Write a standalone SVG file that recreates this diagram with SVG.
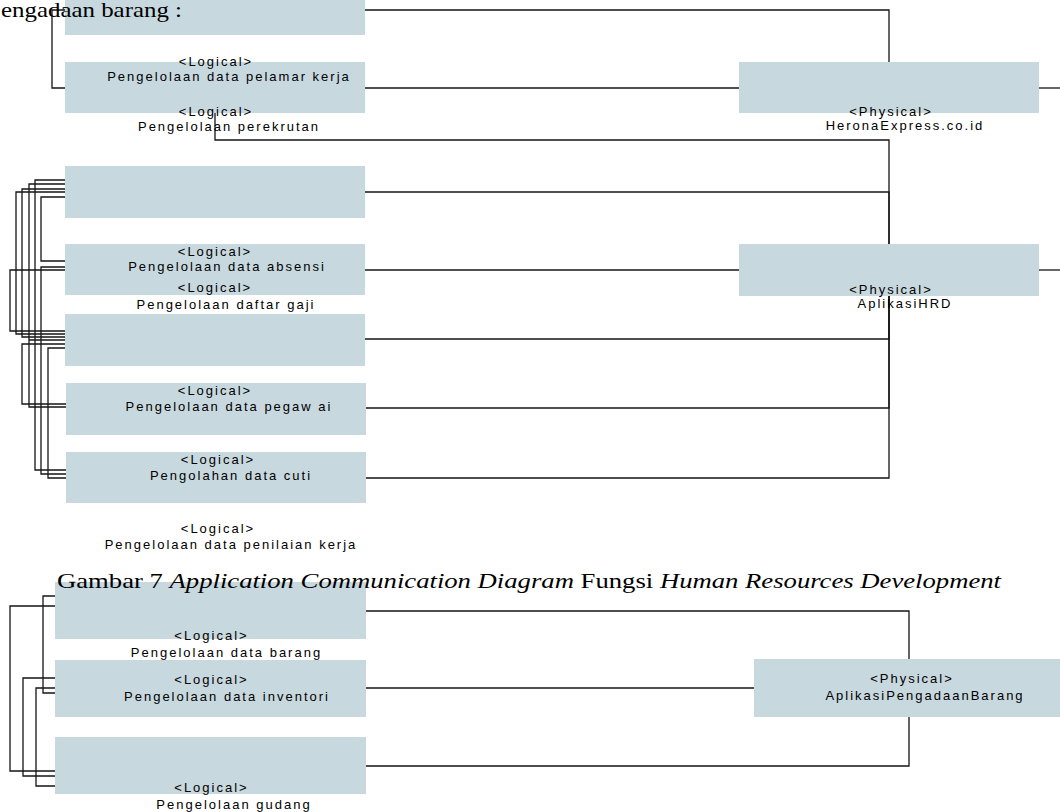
<svg xmlns="http://www.w3.org/2000/svg" width="1060" height="812" viewBox="0 0 1060 812">
<style>
.box{fill:#c8d8df;stroke:none}
.c{fill:none;stroke:#151515;stroke-width:1.3}
.t{font-family:"Liberation Sans",Arial,sans-serif;font-size:13px;letter-spacing:2px;fill:#000;text-anchor:middle}
.cap{font-family:"Liberation Serif","Times New Roman",serif;font-size:21.5px;fill:#000}
</style>
<rect width="1060" height="812" fill="#fff"/>
<g id="connectors">
<path class="c" d="M65,10 H52 V88 H65"/>
<path class="c" d="M365,10 H889 V62"/>
<path class="c" d="M365,88 H739"/>
<path class="c" d="M1039,88 H1060"/>
<path class="c" d="M215,113 V140 H889 V244"/>
<path class="c" d="M365,192 H889 V244"/>
<path class="c" d="M365,270 H739"/>
<path class="c" d="M1039,270 H1060"/>
<path class="c" d="M365,339 H889 V296"/>
<path class="c" d="M366,408 H889 V296"/>
<path class="c" d="M366,478 H889 V296"/>
<path class="c" d="M65,180 H35 V470 H66"/>
<path class="c" d="M65,184 H29 V407 H66"/>
<path class="c" d="M65,189 H22 V337 H65"/>
<path class="c" d="M65,192 H16 V334 H65"/>
<path class="c" d="M65,197 H41 V261 H65"/>
<path class="c" d="M65,267 H41 V474 H66"/>
<path class="c" d="M65,270 H10 V331 H65"/>
<path class="c" d="M65,340 H29"/>
<path class="c" d="M65,344 H22 V404 H66"/>
<path class="c" d="M65,348 H48 V478 H66"/>
<path class="c" d="M366,611 H909 V659"/>
<path class="c" d="M366,766 H909 V717"/>
<path class="c" d="M366,688 H754"/>
<path class="c" d="M55,606 H10 V771 H55"/>
<path class="c" d="M55,596 H43 V693 H55"/>
<path class="c" d="M55,678 H23 V776 H55"/>
<path class="c" d="M55,688 H36 V786 H55"/>
</g>
<g id="n-top">
<rect class="box" x="65" y="0" width="300" height="35"/>
</g>
<g id="n-pelamar">
<rect class="box" x="65" y="62" width="300" height="51"/>
<text class="t" x="216" y="66">&lt;Logical&gt;</text>
<text class="t" x="229" y="81">Pengelolaan data pelamar kerja</text>
</g>
<g id="n-perekrutan">
<text class="t" x="216" y="116">&lt;Logical&gt;</text>
<text class="t" x="229" y="131">Pengelolaan perekrutan</text>
</g>
<g id="n-herona">
<rect class="box" x="739" y="62" width="300" height="51"/>
<text class="t" x="891" y="116">&lt;Physical&gt;</text>
<text class="t" x="905" y="130">HeronaExpress.co.id</text>
</g>
<g id="n-box3">
<rect class="box" x="65" y="166" width="300" height="52"/>
</g>
<g id="n-absensi">
<rect class="box" x="65" y="244" width="300" height="51"/>
<text class="t" x="215" y="256">&lt;Logical&gt;</text>
<text class="t" x="227" y="271">Pengelolaan data absensi</text>
</g>
<g id="n-gaji">
<text class="t" x="215" y="292">&lt;Logical&gt;</text>
<text class="t" x="226" y="308.5">Pengelolaan daftar gaji</text>
</g>
<g id="n-hrd">
<rect class="box" x="739" y="244" width="300" height="52"/>
<text class="t" x="891" y="294">&lt;Physical&gt;</text>
<text class="t" x="905" y="308">AplikasiHRD</text>
</g>
<g id="n-box5">
<rect class="box" x="65" y="314" width="300" height="52"/>
</g>
<g id="n-pegawai">
<rect class="box" x="66" y="383" width="300" height="52"/>
<text class="t" x="215" y="395">&lt;Logical&gt;</text>
<text class="t" x="229" y="411">Pengelolaan data pegaw ai</text>
</g>
<g id="n-cuti">
<rect class="box" x="66" y="452" width="300" height="51"/>
<text class="t" x="218" y="464">&lt;Logical&gt;</text>
<text class="t" x="231" y="480">Pengolahan data cuti</text>
</g>
<g id="n-penilaian">
<text class="t" x="218" y="533">&lt;Logical&gt;</text>
<text class="t" x="231" y="549">Pengelolaan data penilaian kerja</text>
</g>
<g id="n-barang">
<rect class="box" x="55" y="582" width="311" height="57"/>
<text class="t" x="211.5" y="640">&lt;Logical&gt;</text>
<text class="t" x="226.5" y="656.5">Pengelolaan data barang</text>
</g>
<g id="n-inventori">
<rect class="box" x="55" y="660" width="311" height="57"/>
<text class="t" x="211.5" y="684">&lt;Logical&gt;</text>
<text class="t" x="227" y="701">Pengelolaan data inventori</text>
</g>
<g id="n-gudang">
<rect class="box" x="55" y="737" width="311" height="57"/>
<text class="t" x="211.5" y="792">&lt;Logical&gt;</text>
<text class="t" x="234" y="809">Pengelolaan gudang</text>
</g>
<g id="n-pengadaan">
<rect class="box" x="754" y="659" width="306" height="58"/>
<text class="t" x="912" y="683">&lt;Physical&gt;</text>
<text class="t" x="925" y="700">AplikasiPengadaanBarang</text>
</g>
<text class="cap" x="1" y="17" textLength="181" lengthAdjust="spacingAndGlyphs">engadaan barang :</text>
<text class="cap" x="57" y="588" textLength="944" lengthAdjust="spacingAndGlyphs">Gambar 7 <tspan font-style="italic">Application Communication Diagram</tspan> Fungsi <tspan font-style="italic">Human Resources Development</tspan></text>
</svg>
